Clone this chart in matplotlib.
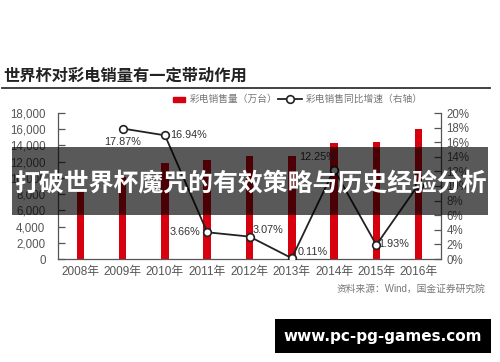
import matplotlib
matplotlib.use('Agg')
import matplotlib.pyplot as plt
from matplotlib.patches import Rectangle
from matplotlib.lines import Line2D
import numpy as np

plt.rcParams['font.family'] = ['Liberation Sans', 'Noto Sans CJK SC']

# data
years = ['2008年', '2009年', '2010年', '2011年', '2012年', '2013年', '2014年', '2015年', '2016年']
sales = [8560, 10090, 11840, 12200, 12750, 12760, 14250, 14460, 16040]   # 万台
growth = [17.87, 16.94, 3.66, 3.07, 0.11, 12.25, 1.93, 10.2]          # %, 2009-2016
growth_labels = ['17.87%', '16.94%', '3.66%', '3.07%', '0.11%', '12.25%', '1.93%', '']
left_ticks = list(range(0, 18001, 2000))
right_ticks = list(range(0, 21, 2))

W, H = 500, 362
def fx(p):
    return p / W
def fy(p):
    return 1 - p / H

fig = plt.figure(figsize=(5, 3.62), dpi=100)
fig.patch.set_facecolor('white')

ax = fig.add_axes([fx(58), fy(259), (441 - 58) / W, (259 - 113) / H])
x = np.arange(len(years))
ax.bar(x, sales, width=0.18, color='#d7000f', zorder=2)
ax.set_xlim(-0.53, 8.53)
ax.set_ylim(0, 18000)
ax.set_yticks(left_ticks)
ax.set_yticklabels(['{:,}'.format(v) for v in left_ticks])
ax.set_xticks(x)
ax.set_xticklabels(years)
ax.tick_params(axis='y', direction='in', length=5, width=0.9, color='#555',
               labelsize=8.3, labelcolor='#555', pad=9)
ax.tick_params(axis='x', length=0, labelsize=8.5, labelcolor='#555', pad=5)
for s in ['top', 'right']:
    ax.spines[s].set_visible(False)
for s in ['left', 'bottom']:
    ax.spines[s].set_color('#555')
    ax.spines[s].set_linewidth(0.9)

ax2 = ax.twinx()
ax2.set_ylim(0, 20)
ax2.set_yticks(right_ticks)
ax2.set_yticklabels(['{}%'.format(v) for v in right_ticks])
ax2.tick_params(axis='y', direction='in', length=5, width=0.9, color='#555',
                labelsize=8.3, labelcolor='#555', pad=4)
for s in ['top', 'left', 'bottom']:
    ax2.spines[s].set_visible(False)
ax2.spines['right'].set_color('#555')
ax2.spines['right'].set_linewidth(0.9)

ax2.plot(x[1:], growth, color='#222', lw=1.3, marker='o', ms=5.5,
         mfc='white', mec='#222', mew=1.2, zorder=3)

# label offsets (pixels) and alignment
offs = [(0, -13, 'center'), (5, 0, 'left'), (-7, 0, 'right'), (3, 7, 'left'),
        (6, 6.5, 'left'), (2, 13, 'right'), (2, 0.5, 'left'), (0, 0, 'left')]
for xi, g, lab, (dx, dy, ha) in zip(x[1:], growth, growth_labels, offs):
    if lab:
        ax2.annotate(lab, (xi, g), xytext=(dx, dy), textcoords='offset pixels',
                     ha=ha, va='center', fontsize=7.8, color='#333', zorder=4)

# title and rule
fig.text(fx(3), fy(75.5), '世界杯对彩电销量有一定带动作用', ha='left', va='center',
         fontsize=11.7, fontweight='bold', color='#222', family=['Noto Sans CJK SC'])
fig.add_artist(Line2D([fx(2), fx(490)], [fy(87.5), fy(87.5)], lw=1.3, color='#333'))

# legend
fig.add_artist(Rectangle((fx(172.7), fy(101.5)), 12.3 / W, 5 / H, color='#d7000f'))
fig.text(fx(190), fy(99), '彩电销售量（万台）', ha='left', va='center', fontsize=7,
         color='#777')
fig.add_artist(Line2D([fx(278), fx(302)], [fy(99), fy(99)], lw=1.3, color='#222'))
fig.add_artist(Line2D([fx(290)], [fy(99)], marker='o', ms=5.5, mfc='white',
                      mec='#222', mew=1.2))
fig.text(fx(306), fy(99), '彩电销售同比增速（右轴）', ha='left', va='center', fontsize=7,
         color='#777')

# source
fig.text(fx(485), fy(289), '资料来源：Wind，国金证券研究院', ha='right', va='center',
         fontsize=7, color='#777')

# overlay banner
fig.add_artist(Rectangle((fx(12), fy(215)), (488 - 12) / W, (215 - 147) / H,
                         color='black', alpha=0.65, lw=0, zorder=5))
fig.text(fx(250), fy(183), '打破世界杯魔咒的有效策略与历史经验分析', ha='center', va='center',
         fontsize=17.9, fontweight='bold', color='white', family=['Noto Sans CJK SC'],
         zorder=6)

# watermark
fig.add_artist(Rectangle((fx(275), fy(353)), (491 - 275) / W, (353 - 319) / H,
                         color='black', lw=0, zorder=5))
fig.text(fx(383), fy(336), 'www.pc-pg-games.com', ha='center', va='center',
         fontsize=11, fontweight='bold', color='white', family=['DejaVu Sans'], zorder=6)

fig.savefig('out.png', dpi=100)
